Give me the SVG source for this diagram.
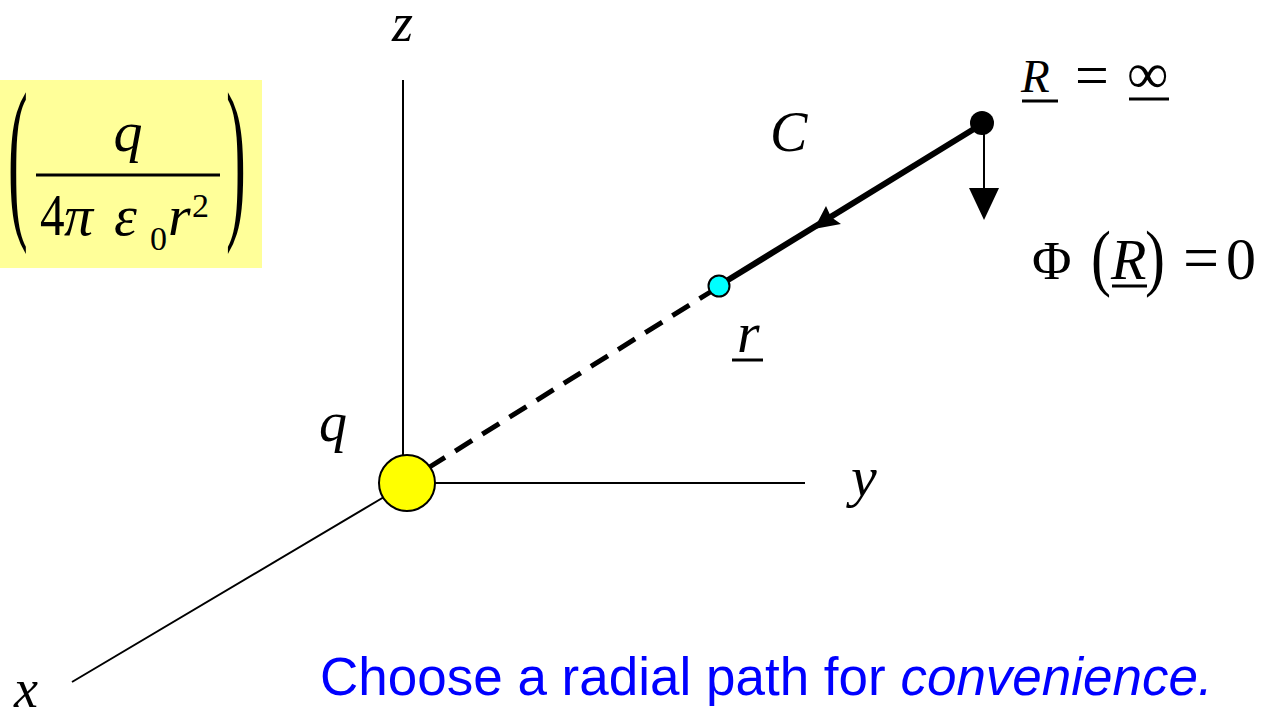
<svg xmlns="http://www.w3.org/2000/svg" width="1267" height="715" viewBox="0 0 1267 715">
<style>
.m{font-family:"Liberation Serif","Times New Roman",serif;font-style:italic;fill:#000}
.n{font-family:"Liberation Serif","Times New Roman",serif;fill:#000}
.ax{stroke:#000;stroke-width:2;fill:none}
.ul{stroke:#000;stroke-width:3}
</style>
<rect width="1267" height="715" fill="#fff"/>
<g id="formula">
<rect x="0" y="80" width="262" height="188" fill="#FFFF99"/>
<text class="n" font-size="66" transform="translate(8,216) scale(0.9,2.7)">(</text>
<text class="n" font-size="66" transform="translate(226,216) scale(0.9,2.7)">)</text>
<text class="m" x="128" y="151" font-size="58" text-anchor="middle">q</text>
<line x1="36" y1="175" x2="220" y2="175" stroke="#000" stroke-width="3"/>
<text class="n" font-size="60" transform="translate(40,235) scale(0.82,1)">4</text>
<text class="m" x="64" y="235" font-size="58">π</text>
<text class="m" x="114" y="235" font-size="58">ε</text>
<text class="n" x="150" y="250" font-size="34">0</text>
<text class="m" x="168" y="235" font-size="58">r</text>
<text class="n" x="192" y="217" font-size="34">2</text>
</g>
<g id="axes">
<line class="ax" x1="403" y1="80" x2="403" y2="456"/>
<line class="ax" x1="435" y1="483" x2="805" y2="483"/>
<line class="ax" x1="72" y1="682" x2="384" y2="497"/>
<text class="m" x="392" y="41" font-size="54">z</text>
<text class="m" x="851" y="496" font-size="58">y</text>
<text class="m" x="14" y="707" font-size="54">x</text>
</g>
<g id="connectors">
<line x1="428" y1="468" x2="712" y2="291" stroke="#000" stroke-width="5" stroke-dasharray="20,12"/>
<line x1="728" y1="280" x2="982" y2="124" stroke="#000" stroke-width="6"/>
<polygon points="814,229 826,206 831,217 841,224" fill="#000"/>
<line x1="984" y1="124" x2="984" y2="192" stroke="#000" stroke-width="2"/>
<polygon points="969,188 999,188 984,220" fill="#000"/>
</g>
<g id="charge-q">
<circle cx="407" cy="483" r="28" fill="#FFFF00" stroke="#000" stroke-width="2"/>
<text class="m" x="319" y="441" font-size="56">q</text>
</g>
<g id="point-r">
<circle cx="719" cy="286" r="10.5" fill="#00FFFF" stroke="#000" stroke-width="2"/>
<text class="m" x="737" y="352" font-size="58">r</text>
<line class="ul" x1="732" y1="360" x2="763" y2="360"/>
</g>
<g id="label-C">
<text class="m" x="770" y="151" font-size="56">C</text>
</g>
<g id="point-R">
<circle cx="982" cy="123" r="12" fill="#000"/>
<text class="m" x="1021" y="92" font-size="47">R</text>
<line class="ul" x1="1022" y1="101" x2="1058" y2="101"/>
<text class="n" x="1075" y="95" font-size="60">=</text>
<text class="n" x="1127" y="93" font-size="58">∞</text>
<line class="ul" x1="1129" y1="99" x2="1169" y2="99"/>
</g>
<g id="phi-label">
<text class="n" x="1032" y="279" font-size="54">Φ</text>
<text class="n" transform="translate(1091,282) scale(1,1.25)" font-size="60">(</text>
<text class="m" x="1111" y="279" font-size="58">R</text>
<line class="ul" x1="1112" y1="286" x2="1147" y2="286"/>
<text class="n" transform="translate(1145,282) scale(1,1.25)" font-size="60">)</text>
<text class="n" x="1183" y="279" font-size="64">=</text>
<text class="n" x="1226" y="279" font-size="60">0</text>
</g>
<g id="caption">
<text x="320" y="695" font-family="Liberation Sans, Arial, sans-serif" font-size="53" fill="#0000FF">Choose a radial path for <tspan font-style="italic">convenience.</tspan></text>
</g>
</svg>
